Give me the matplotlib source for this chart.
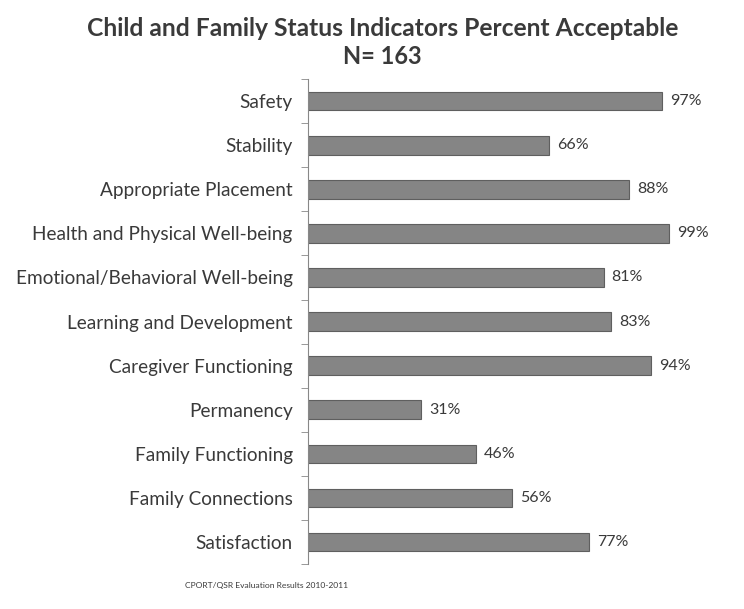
import numpy as np
import matplotlib
matplotlib.use("Agg")
import matplotlib.pyplot as plt

categories = ["Safety", "Stability", "Appropriate Placement", "Health and Physical Well-being",
              "Emotional/Behavioral Well-being", "Learning and Development",
              "Caregiver Functioning", "Permanency", "Family Functioning",
              "Family Connections", "Satisfaction"]
values = [97, 66, 88, 99, 81, 83, 94, 31, 46, 56, 77]

plt.rcParams['font.family'] = ['Lato', 'DejaVu Sans']
txt = '#3a3a3a'

fig = plt.figure(figsize=(7.44, 6.09), dpi=100)
ax = fig.add_axes([0.414, 0.074, 0.4906, 0.796])

y = np.arange(len(categories))
ax.barh(y, values, height=0.42, color='#858585', edgecolor='#5f5f5f', linewidth=0.8)
for yi, v in zip(y, values):
    ax.text(v + 2.2, yi, f"{v}%", va='center', ha='left', fontsize=11.5, color=txt)

ax.set_ylim(len(categories) - 0.5, -0.5)
ax.set_xlim(0, 100)
ax.set_yticks(y)
ax.set_yticklabels(categories, fontsize=13.7, color=txt)
ax.set_yticks(np.arange(-0.5, len(categories)), minor=True)
ax.tick_params(axis='y', which='major', length=0, pad=11)
ax.tick_params(axis='y', which='minor', length=5, color='#888888')
ax.set_xticks([])
for s in ['top', 'right', 'bottom']:
    ax.spines[s].set_visible(False)
ax.spines['left'].set_color('#888888')

fig.text(0.514, 0.953, "Child and Family Status Indicators Percent Acceptable",
         ha='center', va='center', fontsize=17.7, fontweight='bold', color=txt)
fig.text(0.514, 0.908, "N= 163", ha='center', va='center', fontsize=17,
         fontweight='bold', color=txt)
fig.text(0.358, 0.039, "CPORT/QSR Evaluation Results 2010-2011", ha='center',
         va='center', fontsize=6.1, color=txt)

fig.savefig("out.png", dpi=100, facecolor='white')
